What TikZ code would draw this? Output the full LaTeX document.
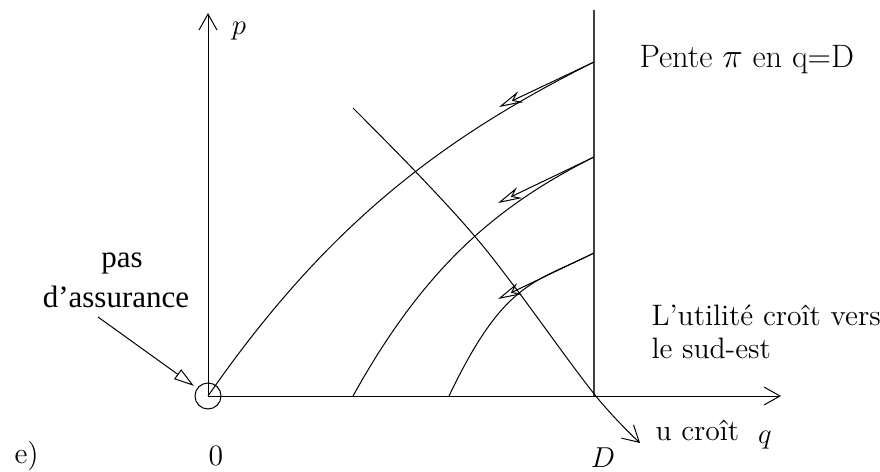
\documentclass[tikz,border=0pt]{standalone}
\usepackage{fontspec}
\usepackage{tikz}
\usetikzlibrary{arrows.meta, positioning}
\newfontfamily\timesfont{Liberation Serif}

\begin{document}
\begin{tikzpicture}[x=0.5pt, y=-0.5pt, line width=0.5pt,
    lbl/.style={inner sep=0pt, font=\fontsize{14.8}{17}\selectfont},
    tlbl/.style={inner sep=0pt, font=\timesfont\fontsize{15.5}{18}\selectfont},
    tangent/.style={-{Stealth[open, length=12pt, width=6pt, inset=4pt]}},
    barb/.style={-{Straight Barb[length=8pt, width=9pt]}}]
    \useasboundingbox (0,0) rectangle (880,472);

    % axes
    \coordinate (O) at (208,396);
    \coordinate (ytop) at (208,13);
    \coordinate (xend) at (781,396);
    \draw[barb] (O) -- (ytop);
    \draw[barb] (O) -- (xend);
    \node[lbl] (p) at (239,31) {$p$};
    \node[lbl] (q) at (765,440) {$q$};

    % q = D
    \coordinate (Dtop) at (594,10);
    \coordinate (Dbot) at (594,396);
    \draw[black!75, line width=0.7pt] (Dtop) -- (Dbot);

    % courbes
    \coordinate (a1) at (594,62);
    \coordinate (a2) at (594,157);
    \coordinate (a3) at (594,253);
    \coordinate (b2) at (353,396);
    \coordinate (b3) at (449,396);
    \draw (O) .. controls (328,223) and (444,137) .. (a1);
    \draw (b2) .. controls (423,270) and (494,207) .. (a2);
    \draw (b3) .. controls (504,281) and (534,283) .. (a3);

    % pentes en q=D
    \coordinate (t1) at (499,107);
    \coordinate (t2) at (498,203);
    \coordinate (t3) at (498,299);
    \draw[tangent] (a1) -- (t1);
    \draw[tangent] (a2) -- (t2);
    \draw[tangent] (a3) -- (t3);

    % u croit
    \draw[barb] plot[smooth, tension=0.6] coordinates {(353,108) (415,171) (472,233) (517,290) (595,395) (640,443)};

    % pas d'assurance
    \node[draw, circle, minimum size=13pt, inner sep=0pt] (orig) at (O) {};
    \coordinate (ptr) at (98,317);
    \draw[-{Triangle[open, length=10pt, width=6pt]}, shorten >=2pt] (ptr) -- (orig);
    \node[tlbl] (pas) at (122,263) {pas};
    \node[tlbl] (assur) at (116,297) {d’assurance};

    % textes
    \node[lbl, anchor=west, font=\fontsize{16.2}{19}\selectfont] (pente) at (639,60) {Pente $\pi$ en q=D};
    \node[lbl, anchor=west] (util) at (651,315) {L’utilité croît vers};
    \node[lbl, anchor=west] (sudest) at (651,348) {le sud-est};
    \node[lbl, anchor=west] (ucroit) at (655,430) {u croît};
    \node[lbl] (D) at (603,458) {$D$};
    \node[lbl] (zero) at (216,456) {0};
    \node[lbl, anchor=west] (e) at (14,456) {e)};
\end{tikzpicture}
\end{document}
